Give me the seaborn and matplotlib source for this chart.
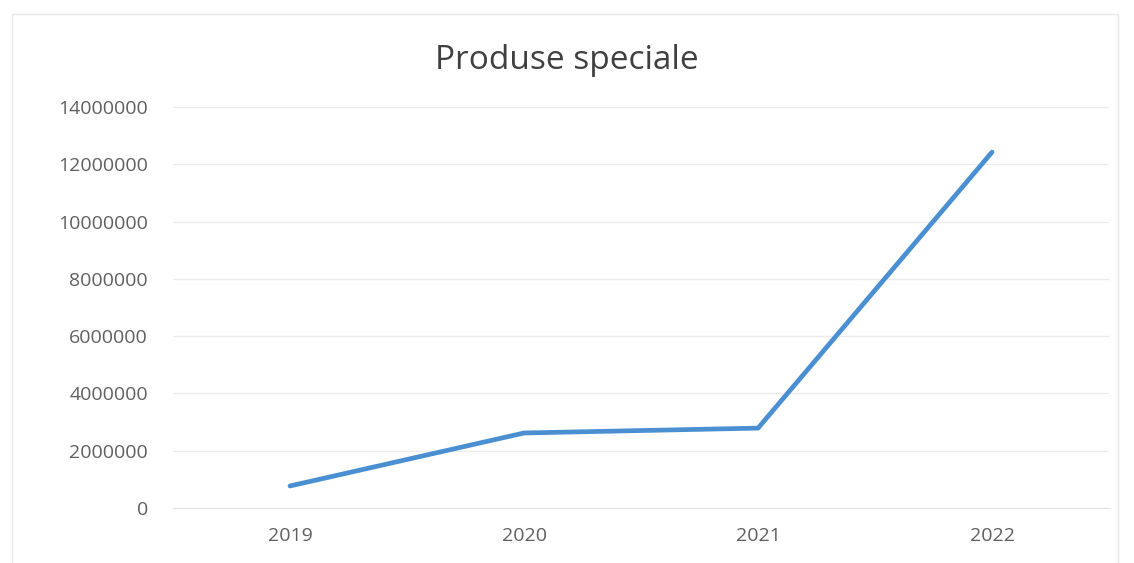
import pandas as pd
import seaborn as sns
import matplotlib.pyplot as plt
from matplotlib.patches import Rectangle

# chart data
years = ["2019", "2020", "2021", "2022"]
values = [770000, 2620000, 2790000, 12430000]
y_ticks = [0, 2000000, 4000000, 6000000, 8000000, 10000000, 12000000, 14000000]

df = pd.DataFrame({"An": years, "Valoare": values})

sns.set_style("white")
plt.rcParams["font.family"] = ["Open Sans", "DejaVu Sans"]

fig = plt.figure(figsize=(11.34, 5.63), dpi=100)
ax = fig.add_axes([0.1526, 0.0977, 0.8254, 0.712])

sns.lineplot(data=df, x="An", y="Valoare", ax=ax, color="#4a8fd1", linewidth=3.4,
             sort=False)

ax.set_xlim(-0.5, 3.5)
ax.set_ylim(0, 14000000)
ax.set_yticks(y_ticks)
ax.set_yticklabels([str(t) for t in y_ticks])
ax.yaxis.grid(True, color="#ececec", linewidth=1)
ax.set_axisbelow(True)
for s in ax.spines.values():
    s.set_visible(False)
ax.spines["bottom"].set_visible(True)
ax.spines["bottom"].set_color("#e4e4e4")
ax.tick_params(axis="both", length=0, labelsize=14, labelcolor="#606060")
ax.tick_params(axis="x", pad=14)
ax.tick_params(axis="y", pad=18)
ax.set_xlabel("")
ax.set_ylabel("")

fig.text(0.5, 0.893, "Produse speciale", ha="center", va="center",
         fontsize=24, color="#404040")

# faint chart border
fig.patches.append(Rectangle((0.011, -0.01), 0.975, 0.985, transform=fig.transFigure,
                             fill=False, edgecolor="#e8e8e8", linewidth=1))

fig.savefig("out.png", dpi=100)
plt.close(fig)
